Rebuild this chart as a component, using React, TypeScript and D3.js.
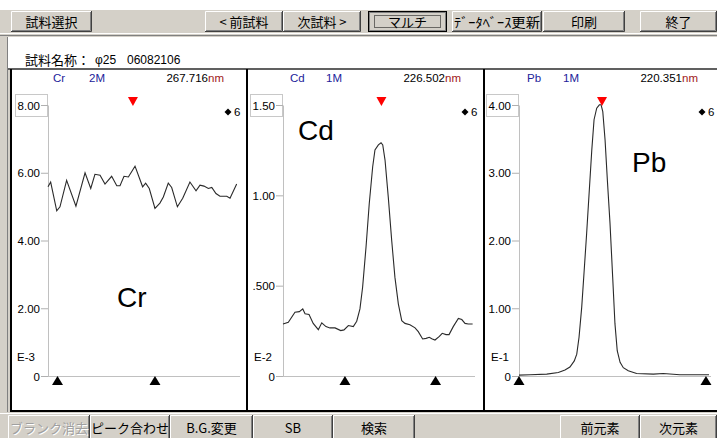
import React from "react";
import * as d3 from "d3";

// ---------------- data ----------------
const elements = ["Cr", "Cd", "Pb"];
const modes = ["2M", "1M", "1M"];
const wavelengths = ["267.716", "226.502", "220.351"];
const exponents = ["E-3", "E-2", "E-1"];
const yMax = [8, 1.5, 4];
const sampleCounts = ["6", "6", "6"];

const crTicks = [0, 2, 4, 6, 8];
const crTickLabels = ["0", "2.00", "4.00", "6.00", "8.00"];
const cdTicks = [0, 0.5, 1.0, 1.5];
const cdTickLabels = ["0", ".500", "1.00", "1.50"];
const pbTicks = [0, 1, 2, 3, 4];
const pbTickLabels = ["0", "1.00", "2.00", "3.00", "4.00"];

const peakMarkers = [44.7, 51.8, 43.7];
const bgMarkers = [
  [5, 56.3],
  [32.6, 80.3],
  [0, 98.4],
];

const crChannel = [0, 1.4, 4.6, 6.3, 9.8, 14.7, 19.5, 22.5, 24.7, 27.4, 30.0, 33.5, 36.2, 37.9, 40.0, 42.3, 45.8, 49.8, 51.4, 53.3, 56.3, 58.9, 60.7, 63.3, 65.1, 68.1, 70.9, 74.7, 77.9, 80.0, 82.1, 84.4, 86.2, 88.4, 90.5, 94.1, 95.8, 99.3];
const crValue = [5.60, 5.74, 4.89, 5.01, 5.79, 5.03, 6.01, 5.55, 5.97, 5.94, 5.68, 5.91, 5.63, 5.63, 5.91, 5.89, 6.21, 5.60, 5.71, 5.55, 4.96, 5.12, 5.30, 5.71, 5.58, 5.01, 5.26, 5.74, 5.48, 5.65, 5.62, 5.55, 5.58, 5.40, 5.32, 5.32, 5.26, 5.68];

const cdChannel = [0, 2.8, 6.3, 8.6, 10.4, 11.6, 13.7, 15.9, 18.6, 20.4, 22.6, 24.7, 27.4, 30.4, 32.1, 34.4, 37.0, 38.8, 40.5, 41.9, 43.7, 45.4, 47.2, 48.4, 50.2, 51.6, 52.5, 53.7, 55.4, 57.2, 58.9, 60.7, 62.5, 64.2, 66.8, 69.5, 71.2, 73.5, 75.3, 77.0, 78.3, 80.0, 82.3, 83.8, 85.8, 87.4, 89.6, 92.3, 94.1, 95.8, 97.5, 99.8];
const cdValue = [0.291, 0.300, 0.356, 0.359, 0.374, 0.347, 0.343, 0.294, 0.259, 0.297, 0.276, 0.269, 0.269, 0.254, 0.258, 0.282, 0.276, 0.306, 0.374, 0.494, 0.717, 0.958, 1.161, 1.254, 1.282, 1.294, 1.282, 1.198, 0.994, 0.754, 0.550, 0.402, 0.309, 0.294, 0.286, 0.269, 0.248, 0.208, 0.211, 0.217, 0.209, 0.202, 0.222, 0.239, 0.232, 0.232, 0.276, 0.321, 0.315, 0.294, 0.291, 0.291];

const pbChannel = [0, 5.8, 14.6, 20.7, 24.2, 26.8, 29.1, 30.4, 31.6, 33.0, 34.2, 35.6, 37.0, 38.3, 39.5, 40.9, 42.3, 43.2, 44.1, 45.3, 46.5, 47.9, 49.3, 50.5, 51.7, 53.2, 54.9, 57.5, 61.9, 70.7, 75.9, 84.7, 100];
const pbValue = [0.02, 0.025, 0.035, 0.06, 0.095, 0.14, 0.23, 0.33, 0.58, 1.02, 1.52, 2.11, 2.75, 3.34, 3.79, 3.96, 4.01, 4.01, 3.91, 3.49, 2.90, 2.26, 1.47, 0.78, 0.38, 0.21, 0.13, 0.085, 0.045, 0.035, 0.045, 0.025, 0.025];

const sampleLabel = "試料名称：";
const sampleId = "φ25";
const sampleCode = "06082106";

const topButtonLabels = ["試料選択", "< 前試料", "次試料 >", "マルチ", "ﾃﾞｰﾀﾍﾞｰｽ更新", "印刷", "終了"];
const bottomButtonLabels = ["ブランク消去", "ピーク合わせ", "B.G.変更", "SB", "検索", "前元素", "次元素"];

// ---------------- layout ----------------
const W = 717;
const H = 438;
const FACE = "#d4d0c8";
const JP = "'Noto Sans CJK JP', 'Noto Sans', sans-serif";
const SANS = "'Liberation Sans', Arial, sans-serif";
const topBtnX = [[11, 92], [205, 283], [283, 361], [368, 447], [452, 542], [543, 625], [640, 717]];
const botBtnX = [[8, 90], [90, 170], [170, 253], [253, 333], [333, 415], [560, 640], [640, 717]];
const PANEL_LEFT = [10, 247, 484];
const AXIS_X = [48, 283, 519];
const PLOT_W = 190;
const Y0 = 376.5;
const YTOP = 105.5;

const panelData = [
  { ch: crChannel, v: crValue, ticks: crTicks, labels: crTickLabels },
  { ch: cdChannel, v: cdValue, ticks: cdTicks, labels: cdTickLabels },
  { ch: pbChannel, v: pbValue, ticks: pbTicks, labels: pbTickLabels },
];

function Btn({ x0, x1, y0, y1, label, pressed = false, disabled = false, fit = 0 }: any) {
  const w = x1 - x0;
  const h = y1 - y0;
  const cx = (x0 + x1) / 2;
  const cy = (y0 + y1) / 2;
  return (
    <g>
      <rect x={x0} y={y0} width={w} height={h} fill={FACE} />
      {pressed ? (
        <>
          <rect x={x0 + 0.5} y={y0 + 0.5} width={w - 1} height={h - 1} fill="none" stroke="#000" />
          <rect x={x0 + 1.5} y={y0 + 1.5} width={w - 3} height={h - 3} fill="none" stroke="#808080" />
          <rect x={x0 + 6.5} y={y0 + 4.5} width={w - 13} height={h - 9} fill="none" stroke="#000" strokeDasharray="1,1" />
        </>
      ) : (
        <>
          <path d={`M${x0 + 0.5},${y1 - 1} V${y0 + 0.5} H${x1 - 1}`} stroke="#fff" fill="none" />
          <path d={`M${x0},${y1 - 0.5} H${x1 - 0.5} V${y0}`} stroke="#404040" fill="none" />
          <path d={`M${x0 + 1},${y1 - 1.5} H${x1 - 1.5} V${y0 + 1}`} stroke="#808080" fill="none" />
        </>
      )}
      {disabled && (
        <text x={cx + 1} y={cy + 1} textAnchor="middle" dominantBaseline="central" fontFamily={JP} fontSize={13} fill="#fff">
          {label}
        </text>
      )}
      <text
        x={cx}
        y={cy}
        textAnchor="middle"
        dominantBaseline="central"
        fontFamily={JP}
        fontSize={13}
        fill={disabled ? "#a0a0a0" : "#000"}
        {...(fit ? { textLength: fit, lengthAdjust: "spacingAndGlyphs" } : {})}
      >
        {label}
      </text>
    </g>
  );
}

function Panel({ i }: { i: number }) {
  const d = panelData[i];
  const left = PANEL_LEFT[i];
  const ax = AXIS_X[i];
  const x = d3.scaleLinear().domain([0, 100]).range([ax, ax + PLOT_W]);
  const y = d3.scaleLinear().domain([0, yMax[i]]).range([Y0, YTOP]);
  const pts = d.ch.map((c, k) => [c, d.v[k]] as [number, number]);
  const line = d3
    .line<[number, number]>()
    .x((p) => x(p[0]))
    .y((p) => y(p[1]));
  const top = y(yMax[i]);
  return (
    <g>
      {/* header */}
      <text x={left + 43} y={82} fontFamily={SANS} fontSize={11.5} fill="#22229a">
        {elements[i]}
      </text>
      <text x={left + 79} y={82} fontFamily={SANS} fontSize={11.5} fill="#22229a">
        {modes[i]}
      </text>
      <text x={left + 198} y={82} textAnchor="end" fontFamily={SANS} fontSize={11.5} fill="#000">
        {wavelengths[i]}
      </text>
      <text x={left + 198} y={82} fontFamily={SANS} fontSize={11.5} fill="#a01818">
        nm
      </text>
      {/* top-label box */}
      <rect x={ax - 32.5} y={94.5} width={32} height={22} fill="none" stroke="#c8c8c8" />
      {/* axes */}
      <line x1={ax + 0.5} x2={ax + 0.5} y1={top} y2={Y0} stroke="#c0c0c0" />
      <line x1={ax - 7} x2={x(100) + 2} y1={Y0} y2={Y0} stroke="#c0c0c0" />
      {d.ticks.map((t, k) => (
        <g key={k}>
          <line x1={ax - 7} x2={ax} y1={y(t)} y2={y(t)} stroke="#b0b0b0" />
          <text x={ax - 8} y={y(t)} dy="0.35em" textAnchor="end" fontFamily={SANS} fontSize={11.5} fill="#000">
            {d.labels[k]}
          </text>
        </g>
      ))}
      <text x={left + 7} y={357} dy="0.35em" fontFamily={SANS} fontSize={11.5} fill="#000">
        {exponents[i]}
      </text>
      {/* curve */}
      <path d={line(pts) || ""} fill="none" stroke="#2a2a2a" strokeWidth={1.1} />
      {/* peak marker */}
      <path
        d={`M${x(peakMarkers[i]) - 5},97 L${x(peakMarkers[i]) + 5},97 L${x(peakMarkers[i])},106 Z`}
        fill="#ff0000"
      />
      {/* background markers */}
      {bgMarkers[i].map((c, k) => (
        <path key={k} d={`M${x(c)},376 L${x(c) + 5.5},385 L${x(c) - 5.5},385 Z`} fill="#000" />
      ))}
      {/* sample count */}
      <path d={`M${left + 218},108.5 l3.5,3.5 l-3.5,3.5 l-3.5,-3.5 Z`} fill="#000" />
      <text x={left + 224} y={112} dy="0.35em" fontFamily={SANS} fontSize={11.5} fill="#000">
        {sampleCounts[i]}
      </text>
    </g>
  );
}

export default function App() {
  const bigLabelPos = [
    [117, 307],
    [298, 140],
    [632, 172],
  ];
  return (
    <div style={{ position: "absolute", left: 0, top: 0 }}>
      <svg width={W} height={H} style={{ display: "block" }}>
        <rect x={0} y={0} width={W} height={H} fill={FACE} />
        <rect x={0} y={0} width={W} height={10} fill="#fff" />
        {/* top buttons */}
        {topButtonLabels.map((l, k) => (
          <Btn key={k} x0={topBtnX[k][0]} x1={topBtnX[k][1]} y0={11} y1={32} label={l} pressed={k === 3} fit={k === 4 ? 86 : 0} />
        ))}
        {/* separator */}
        <line x1={0} x2={W} y1={33.5} y2={33.5} stroke="#fff" />
        <line x1={0} x2={W} y1={35.5} y2={35.5} stroke="#808080" />
        {/* sample name strip */}
        <rect x={8} y={37} width={W - 8} height={32} fill="#fff" />
        <line x1={7.5} x2={7.5} y1={37} y2={412} stroke="#808080" />
        <text x={25} y={60} dy="0.35em" fontFamily={JP} fontSize={13} fill="#000">
          {sampleLabel}
        </text>
        <text x={95} y={60} dy="0.35em" fontFamily={SANS} fontSize={12} fill="#000">
          {sampleId}
        </text>
        <text x={127} y={60} dy="0.35em" fontFamily={SANS} fontSize={12} fill="#000">
          {sampleCode}
        </text>
        {/* panels area */}
        <rect x={10} y={69} width={W - 10} height={342} fill="#fff" />
        {[0, 1, 2].map((i) => (
          <Panel key={i} i={i} />
        ))}
        {elements.map((e, i) => (
          <text key={e} x={bigLabelPos[i][0]} y={bigLabelPos[i][1]} fontFamily={SANS} fontSize={28} fill="#000">
            {e}
          </text>
        ))}
        <line x1={8} x2={W} y1={69} y2={69} stroke="#606060" strokeWidth={2} />
        <line x1={11} x2={11} y1={69} y2={412} stroke="#000" strokeWidth={2} />
        <line x1={247} x2={247} y1={69} y2={412} stroke="#000" strokeWidth={2} />
        <line x1={484} x2={484} y1={69} y2={412} stroke="#000" strokeWidth={2} />
        <line x1={10} x2={W} y1={411} y2={411} stroke="#000" strokeWidth={2} />
        {/* bottom buttons */}
        <line x1={0} x2={W} y1={413.5} y2={413.5} stroke="#fff" />
        {bottomButtonLabels.map((l, k) => (
          <Btn key={k} x0={botBtnX[k][0]} x1={botBtnX[k][1]} y0={415} y1={440} label={l} disabled={k === 0} />
        ))}
      </svg>
    </div>
  );
}
